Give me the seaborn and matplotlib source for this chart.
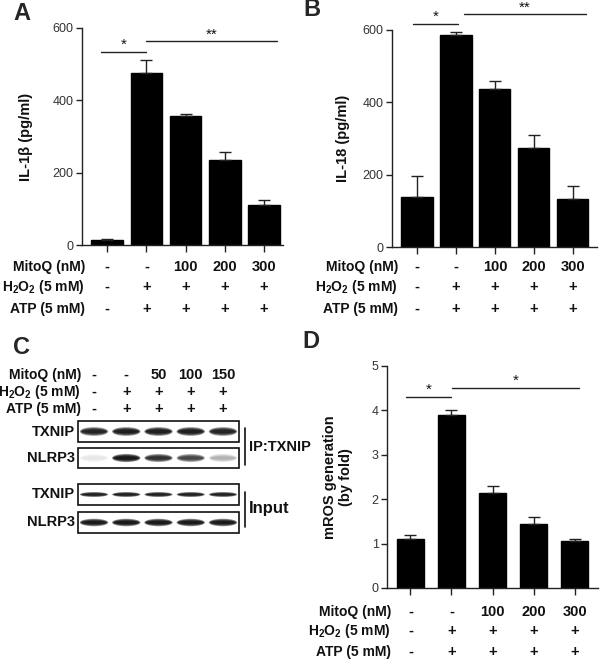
import matplotlib
matplotlib.use("Agg")
import matplotlib.pyplot as plt
import matplotlib.transforms as mtransforms
from matplotlib.patches import Rectangle, Ellipse
import seaborn as sns
import pandas as pd

# ---------------- data ----------------
groups = ["g1", "g2", "g3", "g4", "g5"]
mitoq_abd = ["-", "-", "100", "200", "300"]
mitoq_c = ["-", "-", "50", "100", "150"]
h2o2 = ["-", "+", "+", "+", "+"]
atp = ["-", "+", "+", "+", "+"]
cond_labels = ["MitoQ (nM)", r"$\mathbf{H_2O_2}$ (5 mM)", "ATP (5 mM)"]

il1b_mean = [13, 476, 356, 236, 110]
il1b_err = [4, 35, 7, 22, 15]
il18_mean = [138, 586, 436, 274, 134]
il18_err = [58, 8, 22, 36, 36]
mros_mean = [1.10, 3.89, 2.15, 1.45, 1.05]
mros_err = [0.10, 0.11, 0.15, 0.15, 0.06]

# significance: (label, x_start, x_end, y)
sig_a = [("*", -0.15, 1.0, 533), ("**", 1.0, 4.33, 563)]
sig_b = [("*", -0.1, 1.05, 617), ("**", 1.2, 4.35, 643)]
sig_d = [("*", -0.1, 1.0, 4.30), ("*", 1.02, 4.1, 4.50)]

# western blot band intensities (0..1)
blot_rows = ["TXNIP", "NLRP3", "TXNIP", "NLRP3"]
txnip_ip = [0.85, 0.9, 0.9, 0.9, 0.85]
nlrp3_ip = [0.05, 0.97, 0.75, 0.6, 0.18]
txnip_in = [0.88, 0.88, 0.88, 0.88, 0.88]
nlrp3_in = [0.95, 0.97, 0.95, 0.95, 0.95]

# ---------------- style ----------------
sns.set_style("white")
plt.rcParams["font.family"] = ["Liberation Sans", "DejaVu Sans"]
plt.rcParams["mathtext.fontset"] = "custom"
plt.rcParams["mathtext.rm"] = "Liberation Sans"
plt.rcParams["mathtext.bf"] = "Liberation Sans:bold"

W, H = 600, 661
fig = plt.figure(figsize=(W / 100, H / 100), dpi=100)


def rect(x0, y0, x1, y1):
    return [x0 / W, 1 - y1 / H, (x1 - x0) / W, (y1 - y0) / H]


def fy(y):
    return 1 - y / H


TXT = dict(fontsize=10.5, fontweight="bold", color="#111111")
TXTL = dict(fontsize=10, fontweight="bold", color="#111111")


def bar_panel(pos, means, errs, ylim, yticks, ylabel, xlim, width, sigs,
              label_coords, rows_y, label_x, letter, letter_xy):
    ax = fig.add_axes(rect(*pos))
    df = pd.DataFrame({"g": groups, "v": means})
    sns.barplot(data=df, x="g", y="v", color="black", width=width,
                errorbar=None, ax=ax, saturation=1)
    for p in ax.patches:
        p.set_edgecolor("black")
    ax.errorbar(range(len(means)), means, yerr=[[0] * len(errs), errs],
                fmt="none", ecolor="#222222", elinewidth=1.0, capsize=4.5,
                capthick=1.0)
    ax.set_xlim(*xlim)
    ax.set_ylim(*ylim)
    ax.set_yticks(yticks)
    ax.set_yticklabels([str(t) for t in yticks], fontsize=9, color="#333333")
    ax.set_xticks(range(len(means)))
    ax.set_xticklabels([])
    ax.set_xlabel("")
    ax.set_ylabel(ylabel, fontsize=10.5, fontweight="bold", color="#111111")
    ax.yaxis.set_label_coords(*label_coords)
    for s in ["top", "right"]:
        ax.spines[s].set_visible(False)
    for s in ["left", "bottom"]:
        ax.spines[s].set_color("#222222")
        ax.spines[s].set_linewidth(1.0)
    ax.tick_params(axis="y", direction="out", length=4, width=1,
                   color="#222222", left=True, pad=2)
    ax.tick_params(axis="x", direction="out", length=5, width=1,
                   color="#222222", bottom=True)
    for lab, x0, x1, y in sigs:
        ax.plot([x0, x1], [y, y], color="#222222", lw=1.0, clip_on=False)
        ax.text((x0 + x1) / 2, y, lab, ha="center", va="bottom",
                fontsize=11, color="#111111", clip_on=False)
    tr = mtransforms.blended_transform_factory(ax.transData, fig.transFigure)
    for vals, lab, y in zip([mitoq_abd, h2o2, atp], cond_labels, rows_y):
        fig.text(label_x / W, fy(y), lab, ha="right", va="center", **TXTL)
        for i, v in enumerate(vals):
            ax.text(i, fy(y), v, transform=tr, ha="center", va="center",
                    clip_on=False, **TXT)
    fig.text(letter_xy[0] / W, fy(letter_xy[1]), letter, ha="center",
             va="center", fontsize=17, fontweight="bold")
    return ax


bar_panel((82, 28, 283, 245), il1b_mean, il1b_err, (0, 600),
          [0, 200, 400, 600], "IL-1β (pg/ml)", (-0.64, 4.48), 0.8, sig_a,
          (-0.245, 0.5), [267, 287, 309], 85, "A", (22, 13))
bar_panel((392, 30, 597, 247), il18_mean, il18_err, (0, 600),
          [0, 200, 400, 600], "IL-18 (pg/ml)", (-0.64, 4.62), 0.8, sig_b,
          (-0.205, 0.5), [267, 287, 309], 398, "B", (312, 10))
bar_panel((387, 366, 598, 588), mros_mean, mros_err, (0, 5),
          [0, 1, 2, 3, 4, 5], "mROS generation\n(by fold)", (-0.57, 4.57),
          0.67, sig_d, (-0.16, 0.5), [612, 631, 652], 391, "D", (311, 342))

# ---------------- panel C (western blot) ----------------
axc = fig.add_axes([0, 0, 300 / W, 331 / H])
axc.set_xlim(0, 300)
axc.set_ylim(661, 330)
axc.axis("off")

lane_x0, lane_dx = 94, 32.25
lanes = [lane_x0 + lane_dx * i for i in range(5)]
axc.text(22, 348, "C", ha="center", va="center", fontsize=17,
         fontweight="bold")
for vals, lab, y in zip([mitoq_c, h2o2, atp], cond_labels, [375, 392, 409]):
    axc.text(81, y, lab, ha="right", va="center", clip_on=False, **TXTL)
    for x, v in zip(lanes, vals):
        axc.text(x, y, v, ha="center", va="center", **TXT)

boxes = [(421, 442), (448, 468), (484, 505), (512, 533)]
intens = [txnip_ip, nlrp3_ip, txnip_in, nlrp3_in]
thick = [7.0, 6.5, 4.0, 6.0]
for (t, b), lab, vals, th in zip(boxes, blot_rows, intens, thick):
    axc.add_patch(Rectangle((78, t), 161, b - t, fill=False,
                            edgecolor="#111111", lw=1.2))
    axc.text(75, (t + b) / 2, lab, ha="right", va="center", **TXT)
    yc = (t + b) / 2
    for x, v in zip(lanes, vals):
        for s in [1.25, 1.0, 0.75, 0.5]:
            axc.add_patch(Ellipse((x, yc), 27 * (0.8 + 0.2 * s), th * s,
                                  facecolor="black", edgecolor="none",
                                  alpha=min(1.0, v * 0.45)))

axc.plot([245, 245], [428, 465], color="#111111", lw=1.2)
axc.plot([245, 245], [492, 527], color="#111111", lw=1.2)
axc.text(249, 447, "IP:TXNIP", ha="left", va="center", clip_on=False, **TXT)
axc.text(249, 509, "Input", ha="left", va="center", clip_on=False,
         fontsize=12, fontweight="bold", color="#111111")

fig.savefig("out.png", dpi=100)
